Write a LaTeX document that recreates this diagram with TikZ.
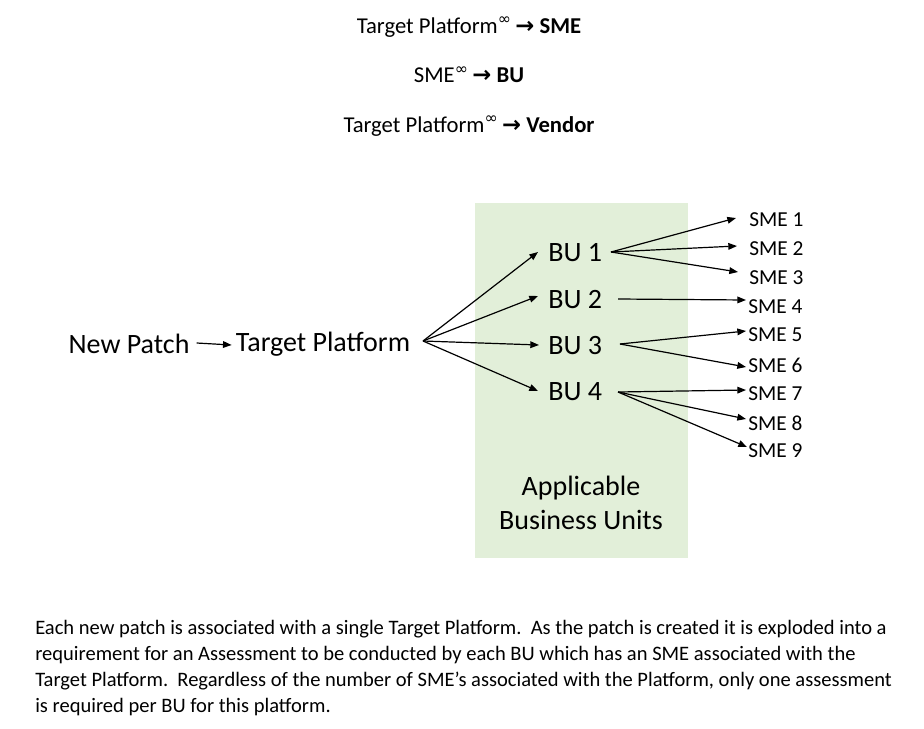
\documentclass[tikz,border=0pt]{standalone}
\usepackage{fontspec}
\setmainfont{Carlito}
\newfontfamily\symf{DejaVu Sans}
\usetikzlibrary{arrows.meta}
\definecolor{bggreen}{HTML}{E2EFD9}
\begin{document}
\begin{tikzpicture}[x=0.75pt,y=-0.75pt,
  lbl/.style={inner sep=0pt,font=\fontsize{21}{25}\selectfont},
  sme/.style={inner sep=0pt,anchor=west,font=\fontsize{16}{19}\selectfont},
  hdr/.style={inner sep=0pt,font=\fontsize{17}{20}\selectfont},
  arr/.style={-{Triangle[length=6.5pt,width=5pt]},line width=0.9pt}]
\useasboundingbox (0,0) rectangle (924,728);
\node[fill=bggreen,minimum width=213*0.75pt,minimum height=355*0.75pt,inner sep=0pt,anchor=north west] (bg) at (475,203) {};
% header lines
\node[hdr] (h1) at (469,27) {Target Platform\textsuperscript{\symf ∞}\,{\symf\bfseries →} \textbf{SME}};
\node[hdr] (h2) at (469,75) {SME\textsuperscript{\symf ∞}\,{\symf\bfseries →} \textbf{BU}};
\node[hdr] (h3) at (469,126) {Target Platform\textsuperscript{\symf ∞}\,{\symf\bfseries →} \textbf{Vendor}};
% main chain
\node[lbl] (np) at (129,344) {New Patch};
\node[lbl] (tp) at (323,344) {Target Platform};
\draw[arr] (np.east)+(7,-1) -- ([xshift=-3pt,yshift=-0.75pt]tp.west);
\coordinate (fan) at (423,341);
\node[lbl,anchor=west] (bu1) at (548,253) {BU 1};
\node[lbl,anchor=west] (bu2) at (548,300) {BU 2};
\node[lbl,anchor=west] (bu3) at (548,346) {BU 3};
\node[lbl,anchor=west] (bu4) at (548,392) {BU 4};
\draw[arr] (fan) -- (538,252);
\draw[arr] (fan) -- (538,296);
\draw[arr] (fan) -- (539,345);
\draw[arr] (fan) -- (538,391);
% SMEs
\node[sme] (s1) at (749,220) {SME 1};
\node[sme] (s2) at (749,249) {SME 2};
\node[sme] (s3) at (749,278) {SME 3};
\node[sme] (s4) at (748,307) {SME 4};
\node[sme] (s5) at (748,335) {SME 5};
\node[sme] (s6) at (748,365) {SME 6};
\node[sme] (s7) at (748,394) {SME 7};
\node[sme] (s8) at (748,423) {SME 8};
\node[sme] (s9) at (748,451) {SME 9};
\coordinate (b1) at (611,252);
\coordinate (b2) at (618,299);
\coordinate (b3) at (620,344);
\coordinate (b4) at (618,392);
\draw[arr] (b1) -- (736,218);
\draw[arr] (b1) -- (737,246);
\draw[arr] (b1) -- (738,272);
\draw[arr] (b2) -- (746,300);
\draw[arr] (b3) -- (746,331);
\draw[arr] (b3) -- (746,367);
\draw[arr] (b4) -- (746,390);
\draw[arr] (b4) -- (746,419);
\draw[arr] (b4) -- (747,447);
\node[lbl,align=center,font=\fontsize{21}{25}\selectfont] (abu) at (581,503) {Applicable\\Business Units};
% paragraph
\node[inner sep=0pt,anchor=north west,align=left,font=\fontsize{15.4}{19.5}\selectfont] (para) at (35,620) {Each new patch is associated with a single Target Platform.\ \ As the patch is created it is exploded into a\\
requirement for an Assessment to be conducted by each BU which has an SME associated with the\\
Target Platform.\ \ Regardless of the number of SME’s associated with the Platform, only one assessment\\
is required per BU for this platform.};
\end{tikzpicture}
\end{document}
